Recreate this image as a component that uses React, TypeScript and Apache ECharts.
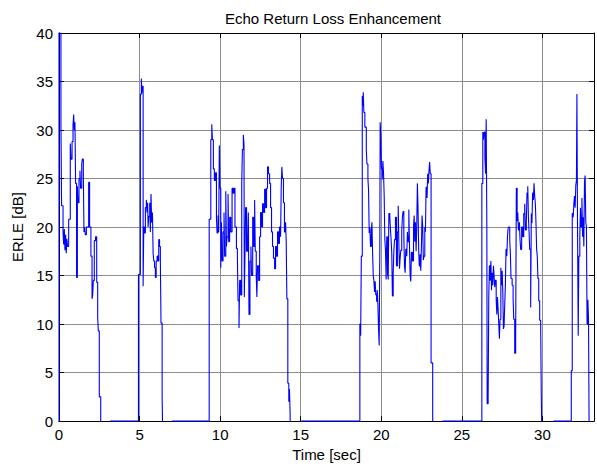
import React, { useEffect, useRef } from "react";
import * as echarts from "echarts";

// ERLE trace, one array per speech burst: [time (s), ERLE (dB)]; values below 0 fall under the axis
const burst1: [number, number][] = [
  [0.0, -2], [0.0, 40], [0.12, 30.8], [0.16, 22.2], [0.25, 19.5], [0.29, 18.2], [0.33, 19.8], [0.37, 17.6],
  [0.41, 19.2], [0.45, 17.3], [0.49, 18.8], [0.53, 18.0], [0.6, 20.8], [0.7, 28.6], [0.74, 27.0],
  [0.81, 28.8], [0.87, 30.5], [0.91, 31.6], [0.95, 30.0], [0.99, 30.8], [1.03, 24.5], [1.09, 14.8],
  [1.14, 24.2], [1.18, 22.5], [1.24, 25.0], [1.3, 25.8], [1.34, 24.0], [1.41, 26.5], [1.45, 27.0],
  [1.51, 25.5], [1.55, 19.5], [1.59, 20.0], [1.63, 19.2], [1.7, 20.0], [1.84, 24.6], [1.9, 20.0],
  [1.98, 17.0], [2.05, 12.6], [2.09, 13.0], [2.13, 14.5], [2.19, 18.6], [2.27, 19.0], [2.34, 14.3],
  [2.4, 10.7], [2.44, 9.3], [2.5, 2.5], [2.59, -2],
];

const burst2: [number, number][] = [
  [4.93, 15.1], [5.05, 33.7], [5.11, 35.3], [5.14, 33.8], [5.17, 34.5], [5.22, 13.9], [5.26, 20.0],
  [5.31, 19.4], [5.36, 22.0], [5.42, 22.8], [5.46, 21.5], [5.5, 22.5], [5.53, 20.0], [5.57, 21.1],
  [5.63, 22.5], [5.67, 19.5], [5.71, 23.4], [5.75, 20.5], [5.8, 21.5], [5.84, 17.3], [5.88, 16.5],
  [5.93, 15.8], [5.98, 14.8], [6.03, 16.5], [6.09, 17.0], [6.14, 16.5], [6.19, 18.7], [6.24, 18.0],
  [6.29, 16.5], [6.33, 10.1], [6.4, 2.5], [6.44, -2],
];

const burst3: [number, number][] = [
  [9.32, 20.8], [9.42, 29.0], [9.48, 30.6], [9.52, 29.0], [9.58, 26.0], [9.64, 24.8], [9.71, 25.6],
  [9.77, 21.0], [9.81, 19.4], [9.87, 21.2], [9.91, 19.5], [9.95, 28.4], [9.99, 24.0], [10.04, 15.8],
  [10.08, 20.5], [10.12, 16.5], [10.18, 19.5], [10.24, 21.5], [10.28, 17.0], [10.35, 23.7], [10.39, 18.0],
  [10.43, 19.0], [10.49, 23.4], [10.53, 18.5], [10.59, 21.0], [10.66, 19.5], [10.74, 24.0], [10.8, 23.5],
  [10.86, 24.0], [10.92, 20.0], [11.01, 17.8], [11.07, 17.0], [11.11, 12.4], [11.17, 9.6], [11.21, 14.5],
  [11.27, 13.0], [11.34, 24.5], [11.38, 28.0], [11.44, 29.5], [11.48, 28.5], [11.5, 12.8], [11.54, 17.0],
  [11.58, 22.0], [11.64, 17.5], [11.71, 19.0], [11.75, 21.5], [11.79, 11.0], [11.85, 16.5], [11.91, 18.0],
  [11.95, 15.0], [12.02, 21.0], [12.08, 18.0], [12.14, 22.8], [12.18, 17.5], [12.24, 15.0], [12.28, 12.8],
  [12.32, 16.0], [12.39, 14.5], [12.45, 19.0], [12.51, 21.5], [12.57, 20.0], [12.63, 22.4], [12.7, 21.5],
  [12.76, 23.9], [12.82, 22.0], [12.88, 24.0], [12.94, 26.2], [13.0, 25.5], [13.07, 24.5], [13.13, 22.0],
  [13.19, 19.5], [13.25, 18.0], [13.31, 16.8], [13.38, 15.7], [13.44, 18.0], [13.5, 17.0], [13.56, 19.5],
  [13.62, 18.3], [13.68, 20.0], [13.75, 19.0], [13.79, 24.0], [13.83, 26.2], [13.87, 25.0], [13.93, 22.5],
  [13.99, 19.5], [14.06, 20.5], [14.1, 18.5], [14.14, 12.6], [14.2, 3.9], [14.26, 2.0], [14.3, 3.3],
  [14.34, 1.0], [14.36, -2],
];

const burst4: [number, number][] = [
  [18.67, 10.0], [18.72, 8.8], [18.76, 17.0], [18.82, 33.5], [18.86, 32.5], [18.88, 33.9], [18.92, 31.8],
  [18.98, 30.3], [19.07, 28.0], [19.11, 26.5], [19.17, 25.0], [19.21, 23.8], [19.25, 19.4], [19.29, 20.0],
  [19.33, 18.0], [19.38, 19.6], [19.42, 20.5], [19.46, 17.4], [19.5, 15.0], [19.54, 14.5], [19.58, 13.3],
  [19.62, 14.4], [19.66, 13.0], [19.71, 12.3], [19.75, 13.5], [19.79, 12.0], [19.83, 9.5], [19.87, 7.8],
  [19.91, 18.0], [19.93, 30.8], [19.97, 29.5], [20.01, 26.0], [20.06, 24.9], [20.1, 26.8], [20.14, 25.5],
  [20.18, 23.2], [20.22, 18.7], [20.26, 17.6], [20.3, 14.6], [20.34, 19.0], [20.39, 15.2], [20.43, 14.6],
  [20.47, 21.4], [20.53, 21.0], [20.57, 19.7], [20.61, 18.7], [20.65, 17.3], [20.69, 12.9], [20.74, 15.4],
  [20.78, 17.5], [20.82, 18.7], [20.88, 21.0], [20.94, 16.0], [21.0, 19.5], [21.05, 22.2], [21.09, 18.3],
  [21.13, 15.7], [21.17, 16.8], [21.21, 17.6], [21.27, 19.5], [21.31, 21.0], [21.35, 21.6], [21.4, 19.0],
  [21.44, 16.0], [21.48, 15.3], [21.52, 17.7], [21.58, 17.0], [21.62, 19.5], [21.66, 18.5], [21.71, 21.8],
  [21.75, 18.0], [21.79, 15.0], [21.83, 14.4], [21.87, 17.4], [21.93, 16.5], [22.0, 20.0], [22.04, 21.2],
  [22.08, 18.5], [22.12, 20.5], [22.16, 17.5], [22.2, 20.0], [22.24, 24.5], [22.28, 22.0], [22.32, 17.6],
  [22.36, 16.0], [22.41, 17.2], [22.45, 15.5], [22.49, 18.0], [22.53, 21.2], [22.57, 20.0], [22.61, 16.6],
  [22.65, 17.0], [22.7, 20.0], [22.74, 19.5], [22.78, 24.1], [22.84, 23.0], [22.88, 25.5], [22.92, 24.5],
  [22.96, 25.8], [23.0, 26.7], [23.04, 25.5], [23.09, 6.0], [23.19, -2],
];

const burst5: [number, number][] = [
  [26.24, 24.5], [26.3, 29.8], [26.34, 29.0], [26.38, 29.8], [26.43, 27.2], [26.47, 25.5], [26.51, 31.1],
  [26.55, 20.0], [26.57, 1.8], [26.63, 2.2], [26.67, 12.7], [26.71, 16.0], [26.76, 14.5], [26.8, 16.5],
  [26.84, 13.5], [26.88, 15.3], [26.92, 14.0], [26.96, 16.0], [27.0, 15.0], [27.04, 13.8], [27.08, 14.5],
  [27.13, 12.5], [27.17, 11.0], [27.21, 12.8], [27.25, 11.5], [27.29, 10.0], [27.33, 8.5], [27.37, 10.5],
  [27.42, 15.8], [27.46, 14.0], [27.5, 15.5], [27.54, 13.4], [27.58, 9.5], [27.62, 9.8], [27.66, 12.0],
  [27.7, 14.0], [27.74, 17.7], [27.79, 17.0], [27.83, 19.0], [27.87, 19.9], [27.91, 20.0], [27.97, 18.7],
  [28.01, 17.3], [28.05, 14.7], [28.12, 14.0], [28.18, 12.6], [28.22, 10.5], [28.28, 7.0], [28.34, 9.0],
  [28.38, 24.0], [28.43, 20.6], [28.47, 21.5], [28.51, 19.7], [28.57, 20.5], [28.61, 18.7], [28.65, 17.7],
  [28.71, 20.0], [28.78, 19.0], [28.84, 21.4], [28.9, 22.4], [28.94, 19.7], [29.0, 20.4], [29.04, 23.5],
  [29.09, 24.2], [29.13, 21.0], [29.17, 19.5], [29.21, 17.7], [29.27, 11.7], [29.31, 21.4], [29.35, 20.4],
  [29.39, 23.5], [29.44, 22.8], [29.48, 24.5], [29.52, 23.2], [29.56, 22.4], [29.6, 20.4], [29.64, 17.7],
  [29.68, 17.0], [29.72, 14.7], [29.77, 12.4], [29.83, 10.4], [29.89, 10.0], [29.93, 2.5], [29.97, -2],
];

const burst6: [number, number][] = [
  [31.79, 5.2], [31.85, 21.4], [31.91, 21.0], [31.95, 22.4], [31.99, 23.2], [32.03, 22.0], [32.07, 24.3],
  [32.11, 24.8], [32.14, 33.7], [32.18, 19.3], [32.22, 8.8], [32.26, 17.0], [32.32, 19.0], [32.36, 22.0],
  [32.4, 20.0], [32.45, 23.0], [32.49, 19.0], [32.53, 21.0], [32.57, 18.0], [32.61, 24.7], [32.65, 25.3],
  [32.69, 20.5], [32.73, 20.0], [32.77, 10.0], [32.82, 12.5], [32.86, 10.5], [32.9, -2], [33.2, -2],
];

// starts of the 0 dB stretches between bursts
const silence: [number, number][] = [[3.19, 0], [7.02, 0], [15.05, 0], [23.81, 0], [30.7, 0]];

const xTicks = [0, 5, 10, 15, 20, 25, 30];
const yTicks = [0, 5, 10, 15, 20, 25, 30, 35, 40];

const FONT = '"Liberation Sans", Arial, Helvetica, sans-serif';

export default function App() {
  const ref = useRef<HTMLDivElement>(null);
  useEffect(() => {
    if (!ref.current) return;
    const chart = echarts.init(ref.current, null, { renderer: "svg" });
    const data = [...burst1, ...burst2, ...burst3, ...burst4, ...burst5, ...burst6, ...silence]
      .map((p, i) => ({ p, i }))
      .sort((a, b) => a.p[0] - b.p[0] || a.i - b.i)
      .map((o) => o.p);
    const black = { color: "#000", width: 1 };
    const grid = { color: "#8c8c8c", width: 1 };
    const xFmt = (v: number) => (xTicks.includes(Math.round(v * 1000) / 1000) ? String(v) : "");
    const yFmt = (v: number) => (yTicks.includes(Math.round(v * 1000) / 1000) ? String(v) : "");
    chart.setOption({
      animation: false,
      backgroundColor: "#ffffff",
      textStyle: { fontFamily: FONT },
      title: {
        text: "Echo Return Loss Enhancement",
        left: 328,
        top: 6,
        textAlign: "center",
        textStyle: { fontSize: 15, fontWeight: "normal", color: "#000", fontFamily: FONT },
      },
      grid: { left: 59, right: 1, top: 33, bottom: 43 },
      xAxis: [
        {
          type: "value",
          min: 0,
          max: 33.2,
          interval: 5,
          name: "Time [sec]",
          nameLocation: "middle",
          nameGap: 24,
          nameTextStyle: { fontSize: 15, color: "#000", fontFamily: FONT },
          axisLine: { onZero: false, lineStyle: black },
          axisTick: { inside: true, length: 5, lineStyle: black },
          axisLabel: { color: "#000", fontSize: 15, margin: 6, fontFamily: FONT, formatter: xFmt },
          splitLine: { show: true, lineStyle: grid },
        },
        {
          type: "value",
          position: "top",
          min: 0,
          max: 33.2,
          interval: 5,
          axisLine: { onZero: false, lineStyle: black },
          axisTick: { inside: true, length: 5, lineStyle: black },
          axisLabel: { show: false },
          splitLine: { show: false },
        },
      ],
      yAxis: [
        {
          type: "value",
          min: 0,
          max: 40,
          interval: 5,
          name: "ERLE [dB]",
          nameLocation: "middle",
          nameGap: 33,
          nameTextStyle: { fontSize: 15, color: "#000", fontFamily: FONT },
          axisLine: { show: true, onZero: false, lineStyle: black },
          axisTick: { show: true, inside: true, length: 5, lineStyle: black },
          axisLabel: { color: "#000", fontSize: 15, margin: 6, fontFamily: FONT, formatter: yFmt },
          splitLine: { show: true, lineStyle: grid },
        },
        {
          type: "value",
          position: "right",
          min: 0,
          max: 40,
          interval: 5,
          axisLine: { show: true, onZero: false, lineStyle: black },
          axisTick: { show: true, inside: true, length: 5, lineStyle: black },
          axisLabel: { show: false },
          splitLine: { show: false },
        },
      ],
      series: [
        {
          type: "line",
          xAxisIndex: 0,
          yAxisIndex: 0,
          data,
          step: "end",
          symbol: "none",
          showSymbol: false,
          clip: true,
          lineStyle: { color: "#0000ff", width: 1.1 },
          z: 5,
        },
      ],
    });
    return () => chart.dispose();
  }, []);
  return (
    <div
      ref={ref}
      style={{ position: "fixed", left: 0, top: 0, width: 597, height: 467, background: "#fff" }}
    />
  );
}
